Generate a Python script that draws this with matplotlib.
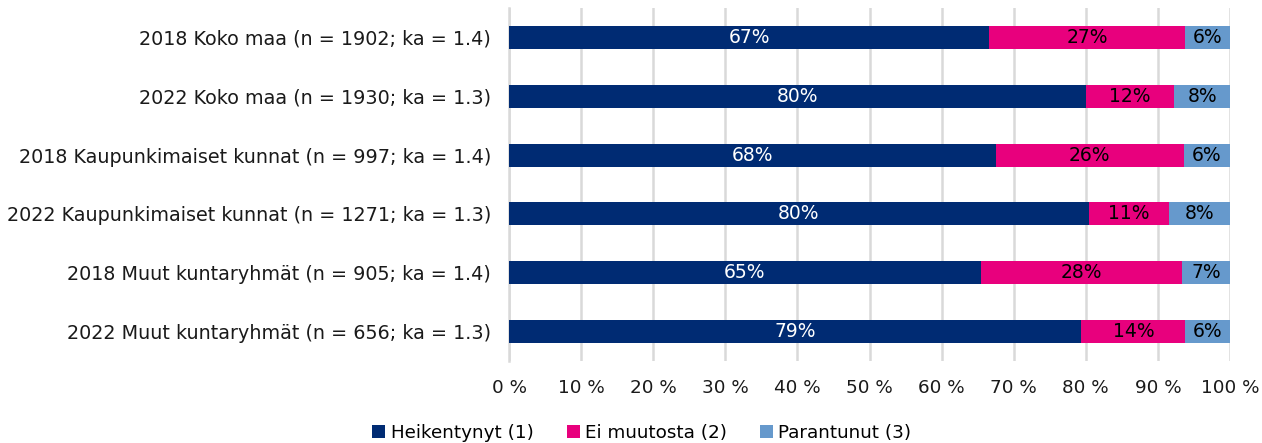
import matplotlib
matplotlib.use("Agg")
import matplotlib.pyplot as plt
import numpy as np

categories = [
    "2018 Koko maa (n = 1902; ka = 1.4)",
    "2022 Koko maa (n = 1930; ka = 1.3)",
    "2018 Kaupunkimaiset kunnat (n = 997; ka = 1.4)",
    "2022 Kaupunkimaiset kunnat (n = 1271; ka = 1.3)",
    "2018 Muut kuntaryhmät (n = 905; ka = 1.4)",
    "2022 Muut kuntaryhmät (n = 656; ka = 1.3)",
]
heikentynyt = [66.6, 80.0, 67.5, 80.4, 65.4, 79.4]
ei_muutosta = [27.1, 12.3, 26.1, 11.1, 28.0, 14.4]
parantunut = [6.3, 7.7, 6.4, 8.5, 6.6, 6.2]
series_names = ["Heikentynyt (1)", "Ei muutosta (2)", "Parantunut (3)"]
colors = ["#002B73", "#E8007D", "#6699CC"]
label_colors = ["white", "black", "black"]
xticks = [0, 10, 20, 30, 40, 50, 60, 70, 80, 90, 100]

plt.rcParams['font.family'] = ['DejaVu Sans']
plt.rcParams['font.sans-serif'] = ['DejaVu Sans']
fig = plt.figure(figsize=(12.62, 4.43), dpi=100)
ax = fig.add_axes([509/1262, 1-361/443, 721/1262, 353/443])

y = np.arange(len(categories))
left = np.zeros(len(categories))
for vals, name, c, lc in zip([heikentynyt, ei_muutosta, parantunut], series_names, colors, label_colors):
    vals = np.array(vals)
    ax.barh(y, vals, left=left, height=0.39, color=c, label=name, zorder=3)
    for yi, l, v in zip(y, left, vals):
        ax.text(l + v/2, yi, f"{int(round(v))}%", ha='center', va='center', color=lc,
                fontsize=13.5, family='DejaVu Sans', zorder=4)
    left += vals

ax.set_xlim(0, 100)
ax.set_ylim(len(categories)-0.5, -0.5)
ax.set_yticks(y)
ax.set_yticklabels(categories, fontsize=13.8, color='#1a1a1a', family='DejaVu Sans')
ax.set_xticks(xticks)
ax.set_xticklabels([f"{t} %" for t in xticks], fontsize=13.2, color='#1a1a1a', family='DejaVu Sans')
ax.grid(axis='x', color='#D9D9D9', linewidth=1.8, zorder=0)
for s in ['top', 'right', 'bottom']:
    ax.spines[s].set_visible(False)
ax.spines['left'].set_color('#D9D9D9')
ax.spines['left'].set_linewidth(1.8)
ax.tick_params(axis='y', length=0, pad=13)
ax.tick_params(axis='x', length=0, pad=13)

fig.legend(loc='center', bbox_to_anchor=(642/1262, 1-433/443), ncol=3, frameon=False,
           prop={'family': 'DejaVu Sans', 'size': 13.2},
           handlelength=0.7, handleheight=0.7, handletextpad=0.3, columnspacing=1.8)
fig.savefig("out.png", dpi=100)
